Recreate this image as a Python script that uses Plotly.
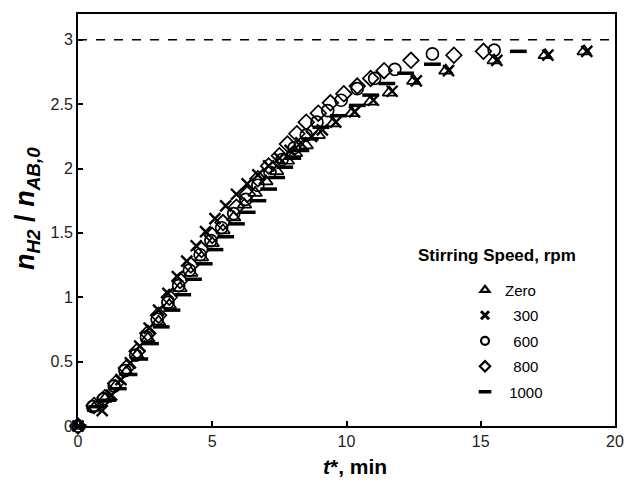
import plotly.graph_objects as go

# ---- data ----
t_zero = [0, 0.6, 1.0, 1.4, 1.8, 2.2, 2.6, 3.0, 3.4, 3.8, 4.2, 4.6, 5.0, 5.4, 5.8, 6.2, 6.6, 7.0, 7.4, 7.8, 8.1, 8.5, 8.95, 9.5, 10.2, 10.9, 11.6, 12.5, 13.7, 15.5, 17.4, 18.85]
y_zero = [0, 0.14, 0.21, 0.31, 0.42, 0.55, 0.68, 0.81, 0.94, 1.07, 1.19, 1.31, 1.42, 1.52, 1.62, 1.72, 1.81, 1.90, 1.98, 2.06, 2.12, 2.18, 2.26, 2.35, 2.43, 2.52, 2.59, 2.68, 2.76, 2.84, 2.88, 2.91]

t_300 = [0, 0.9, 1.25, 1.6, 1.95, 2.3, 2.65, 3.0, 3.35, 3.7, 4.05, 4.4, 4.75, 5.1, 5.5, 5.9, 6.3, 6.7, 7.1, 7.5, 7.9, 8.3, 8.7, 9.1, 9.6, 10.3, 11.0, 11.7, 12.6, 13.8, 15.6, 17.5, 18.95]
y_300 = [0, 0.12, 0.24, 0.36, 0.49, 0.62, 0.76, 0.90, 1.03, 1.16, 1.28, 1.40, 1.51, 1.61, 1.71, 1.80, 1.88, 1.95, 2.02, 2.08, 2.14, 2.20, 2.25, 2.30, 2.36, 2.44, 2.53, 2.60, 2.68, 2.76, 2.84, 2.88, 2.91]

t_600 = [0, 0.55, 0.95, 1.35, 1.75, 2.15, 2.55, 2.95, 3.35, 3.75, 4.15, 4.55, 4.95, 5.35, 5.8, 6.25, 6.7, 7.15, 7.6, 8.05, 8.5, 8.9, 9.3, 9.8, 10.4, 11.05, 11.8, 13.2, 15.5]
y_600 = [0, 0.15, 0.21, 0.31, 0.43, 0.55, 0.69, 0.83, 0.96, 1.09, 1.21, 1.33, 1.44, 1.54, 1.65, 1.76, 1.87, 1.97, 2.07, 2.16, 2.26, 2.36, 2.45, 2.53, 2.62, 2.70, 2.77, 2.89, 2.92]

t_800 = [0, 0.6, 1.0, 1.4, 1.8, 2.2, 2.6, 3.0, 3.4, 3.8, 4.2, 4.6, 5.0, 5.4, 5.9, 6.3, 6.7, 7.1, 7.5, 7.8, 8.15, 8.5, 8.95, 9.4, 9.9, 10.4, 10.9, 11.4, 12.4, 14.0, 15.1]
y_800 = [0, 0.16, 0.22, 0.33, 0.45, 0.58, 0.72, 0.86, 1.0, 1.13, 1.25, 1.37, 1.48, 1.58, 1.70, 1.80, 1.92, 2.02, 2.10, 2.19, 2.27, 2.36, 2.43, 2.51, 2.58, 2.64, 2.70, 2.76, 2.84, 2.88, 2.91]

t_1000 = [0, 0.7, 1.1, 1.5, 1.9, 2.3, 2.7, 3.1, 3.5, 3.9, 4.3, 4.7, 5.1, 5.5, 5.9, 6.3, 6.7, 7.1, 7.4, 7.7, 8.0, 8.3, 8.65, 9.05, 9.7, 10.4, 10.9, 11.5, 12.2, 13.2, 16.4]
y_1000 = [0, 0.15, 0.20, 0.29, 0.40, 0.52, 0.64, 0.77, 0.90, 1.02, 1.14, 1.26, 1.37, 1.47, 1.57, 1.66, 1.75, 1.84, 1.93, 2.01, 2.08, 2.14, 2.23, 2.32, 2.41, 2.49, 2.57, 2.66, 2.74, 2.81, 2.91]

series_names = ["Zero", "\u00a0\u00a0300", "\u00a0\u00a0600", "\u00a0\u00a0800", "\u00a01000"]
ref_value = 3.0
x_range = [0, 20]
y_range = [0, 3.2]
x_ticks = [0, 5, 10, 15, 20]
y_ticks = [0, 0.5, 1, 1.5, 2, 2.5, 3]
y_tick_text = ["0", "0.5", "1", "1.5", "2", "2.5", "3"]

FONT = "Liberation Sans, Arial, sans-serif"

styles = [
    dict(symbol="triangle-up-open", size=12, line=dict(color="black", width=1.7)),
    dict(symbol="x-thin-open", size=11, line=dict(color="black", width=2.4)),
    dict(symbol="circle-open", size=12, line=dict(color="black", width=1.7)),
    dict(symbol="diamond-open", size=12, line=dict(color="black", width=1.7)),
    dict(symbol="line-ew-open", size=12, line=dict(color="#444444", width=3.5)),
]
legend_styles = [
    dict(symbol="triangle-up-open", size=8, line=dict(color="black", width=2.2)),
    dict(symbol="x-thin-open", size=8, line=dict(color="black", width=3)),
    dict(symbol="circle-open", size=8, line=dict(color="black", width=2.2)),
    dict(symbol="diamond-open", size=8, line=dict(color="black", width=2.2)),
    dict(symbol="line-ew-open", size=9, line=dict(color="black", width=3.5)),
]

data = [(t_zero, y_zero), (t_300, y_300), (t_600, y_600), (t_800, y_800), (t_1000, y_1000)]

fig = go.Figure()
for i, ((xs, ys), name, st) in enumerate(zip(data, series_names, styles)):
    fig.add_trace(go.Scatter(
        x=xs, y=ys, mode="markers", name=name, legendgroup=f"g{i}", showlegend=False,
        marker=dict(color="black", **st), cliponaxis=False,
    ))
# legend-only entries with small bold symbols
for i, (name, st) in enumerate(zip(series_names, legend_styles)):
    fig.add_trace(go.Scatter(
        x=[None], y=[None], mode="markers", name=name, legendgroup=f"g{i}",
        marker=dict(color="black", **st),
    ))

fig.add_shape(type="line", xref="x", yref="y", x0=x_range[0], x1=x_range[1],
              y0=ref_value, y1=ref_value, line=dict(color="black", width=1.6, dash="dash"))

fig.add_annotation(text="<b>Stirring Speed, rpm</b>", xref="paper", yref="paper",
                   x=0.780, y=0.415, xanchor="center", yanchor="middle", showarrow=False,
                   font=dict(family=FONT, size=17, color="black"))
# axis titles
fig.add_annotation(text="<b><i>t</i>*, min</b>", xref="paper", yref="paper",
                   x=0.516, y=-0.0995, xanchor="center", yanchor="middle", showarrow=False,
                   font=dict(family=FONT, size=21, color="black"))
fig.add_annotation(text="<b><i>n</i><sub><i>H2</i></sub> / <i>n</i><sub><i>AB,0</i></sub></b>",
                   xref="paper", yref="paper", x=-0.095, y=0.529, textangle=-90,
                   xanchor="center", yanchor="middle", showarrow=False,
                   font=dict(family=FONT, size=27, color="black"))

axis_common = dict(showline=True, linecolor="black", linewidth=2, mirror=True,
                   ticks="inside", ticklen=5, tickwidth=1.5, tickcolor="black",
                   showgrid=False, zeroline=False, automargin=False,
                   ticklabeloverflow="allow",
                   tickfont=dict(family=FONT, size=16, color="#222222"))

fig.update_layout(
    width=625, height=483,
    margin=dict(l=78, r=10, t=14, b=57),
    paper_bgcolor="white", plot_bgcolor="white",
    xaxis=dict(range=x_range, tickvals=x_ticks, **axis_common),
    yaxis=dict(range=y_range, tickvals=y_ticks, ticktext=y_tick_text, **axis_common),
    legend=dict(x=0.7207, y=0.37, xanchor="left", yanchor="top", bgcolor="rgba(0,0,0,0)",
                tracegroupgap=3,
                font=dict(family=FONT, size=15, color="black")),
)

fig.write_html("out.html")
